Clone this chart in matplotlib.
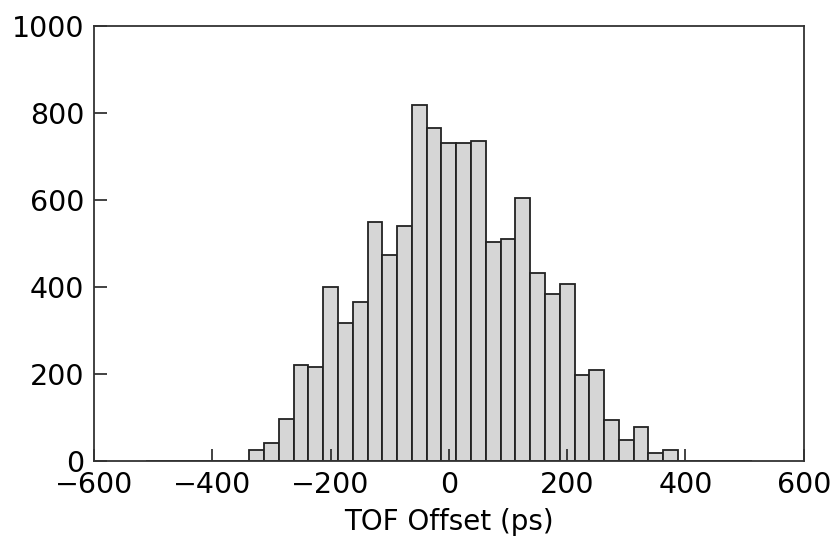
import matplotlib
matplotlib.use("Agg")
import matplotlib.pyplot as plt
import numpy as np

# histogram of TOF offsets, 25 ps bins from -512.5 to 512.5
bin_edges = np.arange(-512.5, 513, 25)
counts = [0, 0, 0, 0, 0, 0, 0,
          24, 42, 96, 221, 215, 400, 317, 366, 549, 474, 539, 819, 766,
          730, 730, 736, 503, 509, 604, 431, 383, 407, 197, 209, 95, 48,
          78, 18, 24,
          0, 0, 0, 0, 0]
x_ticks = [-600, -400, -200, 0, 200, 400, 600]
y_ticks = [0, 200, 400, 600, 800, 1000]

plt.rcParams['font.family'] = 'DejaVu Sans'

fig = plt.figure(figsize=(8.39, 5.48), dpi=100)
ax = fig.add_axes([0.112, 0.159, 0.846, 0.794])

ax.bar(bin_edges[:-1], counts, width=25, align='edge',
       color='#d6d6d6', edgecolor='#222222', linewidth=1.3)

ax.set_xlim(-600, 600)
ax.set_ylim(0, 1000)
ax.set_xticks(x_ticks)
ax.set_yticks(y_ticks)
ax.set_xticklabels([str(t).replace('-', '\u2212') for t in x_ticks])
ax.tick_params(direction='in', length=9, width=1.2, labelsize=20.5,
               colors='#222222', labelcolor='black')
ax.tick_params(axis='y', pad=7)
ax.tick_params(axis='x', pad=7)
for s in ax.spines.values():
    s.set_linewidth(1.3)
    s.set_color('#333333')

ax.set_xlabel('TOF Offset (ps)', fontsize=20, labelpad=7)

fig.savefig('out.png', dpi=100)
